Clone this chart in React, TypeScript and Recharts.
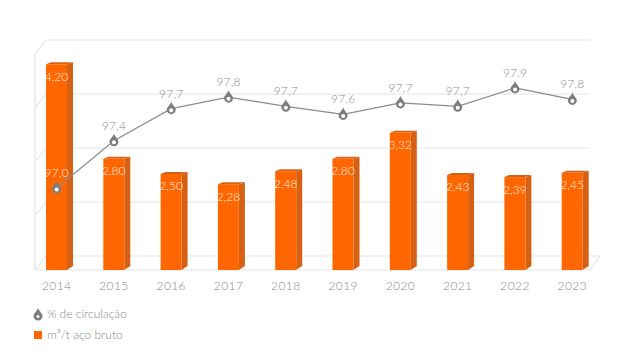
import { Bar, CartesianGrid, ComposedChart, LabelList, Legend, Line, XAxis, YAxis } from 'recharts';

const anos = ['2014', '2015', '2016', '2017', '2018', '2019', '2020', '2021', '2022', '2023'];

// printed values of m³/t
const aguaRotulos = ['4,20', '2,80', '2,50', '2,28', '2,48', '2,80', '3,32', '2,43', '2,39', '2,45'];
// bar heights read against the gridlines: the source does not draw them in proportion to the printed values
const aguaAlturas = [3.81, 2.06, 1.78, 1.59, 1.83, 2.06, 2.54, 1.76, 1.72, 1.8];
// line values, estimated beyond the one printed decimal from the position of the points
const circulacao = [97.0, 97.41, 97.69, 97.79, 97.71, 97.64, 97.74, 97.71, 97.87, 97.77];
const linhasGrade = [0, 1, 2, 3, 4];

const LARANJA = '#ff6600';
const LARANJA_ESCURO = '#d66013';
const CINZA_LINHA = '#8c8c8c';
const CINZA_MARCA = '#7d7d7d';
const CINZA_TEXTO = '#8a8a8a';
const CINZA_GRADE = '#e5e5e5';
const FONTE = 'Lato, sans-serif';

const data = anos.map((ano, i) => ({
  ano,
  altura: aguaAlturas[i],
  rotulo: aguaRotulos[i],
  circulacao: circulacao[i],
}));

// ----------------------------------------------------------------------

const Bar3D = ({ x, y, width, height, fill }: any) => {
  const fundo = y + height;
  const direita = x + width;
  return (
    <g>
      <polygon fill={LARANJA_ESCURO} points={`${direita},${y} ${direita + 6},${y - 2} ${direita + 6},${fundo - 4} ${direita},${fundo}`} />
      <polygon fill={LARANJA_ESCURO} points={`${x},${y} ${x + 5},${y - 2} ${direita + 6},${y - 2} ${direita},${y}`} />
      <rect fill={fill} height={height} width={width} x={x} y={y} />
    </g>
  );
};

const GridLine3D = ({ x, y, width, height, y1, index }: any) => {
  const frente = x + 7;
  const fundo = x + 18;
  const direita = x + width - 11;
  const piso = y1 >= y + height - 0.5;
  const teto = y1 <= y + 0.5;
  const props = { stroke: CINZA_GRADE, strokeWidth: 1.2 };
  return (
    <g key={index}>
      <line {...props} x1={frente} x2={fundo} y1={y1} y2={y1 - 14} />
      <line {...props} x1={fundo} x2={piso ? direita + 10 : direita} y1={y1 - 14} y2={y1 - 14} />
      {piso && <line {...props} x1={frente} x2={direita} y1={y1} y2={y1} />}
      {piso && <line {...props} x1={direita} x2={direita + 10} y1={y1} y2={y1 - 14} />}
      {teto && <line {...props} x1={frente} x2={frente} y1={y1} y2={y1 + height} />}
    </g>
  );
};

const dropPath = (cx: number, cy: number) =>
  `M${cx},${cy - 7} C${cx + 1},${cy - 4} ${cx + 4.5},${cy - 1.5} ${cx + 4.5},${cy + 1} A4.5,4.5 0 1 1 ${cx - 4.5},${cy + 1} C${cx - 4.5},${cy - 1.5} ${cx - 1},${cy - 4} ${cx},${cy - 7} Z`;

const DropDot = ({ cx, cy }: any) => (
  <g>
    <path d={dropPath(cx, cy)} fill={CINZA_MARCA} />
    <circle cx={cx} cy={cy + 1.5} fill='#fff' r={2} />
  </g>
);

const CirculacaoLabel = ({ x, y, index, value }: any) => (
  <text
    fill={index === 0 ? '#fff0e6' : CINZA_TEXTO}
    fontFamily={FONTE}
    fontSize={12}
    fontWeight={300}
    letterSpacing={0.2}
    textAnchor='middle'
    x={x}
    y={y - 11}
  >
    {Number(value).toFixed(1).replace('.', ',')}
  </text>
);

const LegendaCustom = () => (
  <div style={{ color: CINZA_TEXTO, fontFamily: FONTE, fontSize: 12, fontWeight: 300 }}>
    <div style={{ alignItems: 'center', display: 'flex', height: 21 }}>
      <svg height={14} style={{ marginRight: 4 }} width={10}>
        <path d={dropPath(5, 8)} fill={CINZA_MARCA} />
        <circle cx={5} cy={9.5} fill='#fff' r={1.5} />
      </svg>
      % de circulação
    </div>
    <div style={{ alignItems: 'center', display: 'flex', height: 21 }}>
      <span style={{ background: LARANJA, display: 'inline-block', height: 8, marginLeft: 1, marginRight: 5, width: 8 }} />
      m³/t aço bruto
    </div>
  </div>
);

export default function App() {
  return (
    <div style={{ left: 0, position: 'absolute', top: 0 }}>
      <ComposedChart data={data} height={357} margin={{ bottom: 57, left: 28, right: 34, top: 54 }} width={635}>
        <XAxis
          axisLine={false}
          dataKey='ano'
          height={30}
          tick={{ fill: CINZA_TEXTO, fontFamily: FONTE, fontSize: 12, fontWeight: 300, letterSpacing: 0.4 }}
          tickLine={false}
          tickMargin={5}
        />
        <YAxis domain={[0, 4]} hide ticks={linhasGrade} yAxisId='agua' />
        <YAxis domain={[96.287, 98.165]} hide orientation='right' yAxisId='circ' />
        <CartesianGrid horizontal={(p: any) => <GridLine3D {...p} />} syncWithTicks vertical={false} yAxisId='agua' />
        <Bar
          barSize={21}
          dataKey='altura'
          fill={LARANJA}
          isAnimationActive={false}
          legendType='none'
          shape={(p: any) => <Bar3D {...p} />}
          yAxisId='agua'
        >
          <LabelList dataKey='rotulo' fill='#fff0e6' fontFamily={FONTE} fontSize={12} fontWeight={300} offset={8} position='insideTop' />
        </Bar>
        <Line
          dataKey='circulacao'
          dot={(p: any) => <DropDot key={p.index} {...p} />}
          isAnimationActive={false}
          label={(p: any) => <CirculacaoLabel key={p.index} {...p} />}
          stroke={CINZA_LINHA}
          strokeWidth={1.2}
          type='linear'
          yAxisId='circ'
        />
        <Legend
          content={<LegendaCustom />}
          layout='horizontal'
          verticalAlign='middle'
          wrapperStyle={{ left: 33, top: 303, width: 200 }}
        />
      </ComposedChart>
    </div>
  );
}
